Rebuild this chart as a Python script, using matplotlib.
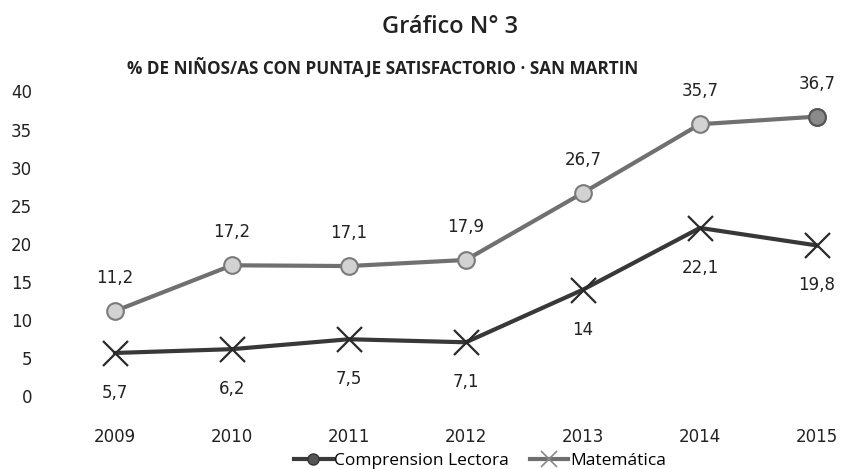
import matplotlib
matplotlib.use("Agg")
import matplotlib.pyplot as plt
from matplotlib.lines import Line2D

# datos del gráfico
anios = ["2009", "2010", "2011", "2012", "2013", "2014", "2015"]
comprension = [11.2, 17.2, 17.1, 17.9, 26.7, 35.7, 36.7]
matematica = [5.7, 6.2, 7.5, 7.1, 14, 22.1, 19.8]
y_ticks = [0, 5, 10, 15, 20, 25, 30, 35, 40]


def etiqueta(v):
    s = f"{v:g}"
    return s.replace(".", ",")


fig = plt.figure(figsize=(8.45, 4.69), dpi=100)
ax = fig.add_axes([60 / 845, (469 - 410) / 469, 785 / 845, 330 / 469])

x = list(range(len(anios)))

ax.plot(x, comprension, color="#707070", lw=3, marker="o", ms=12,
        mfc="#d2d2d2", mec="#7a7a7a", mew=1.5, zorder=3)
ax.plot(x[-1], comprension[-1], marker="o", ms=12, mfc="#8a8a8a",
        mec="#555555", mew=1.5, zorder=4)
ax.plot(x, matematica, color="#383838", lw=3, marker="x", ms=18,
        mec="#2a2a2a", mew=1.6, zorder=3)

for xi, v in zip(x, comprension):
    ax.annotate(etiqueta(v), (xi, v), xytext=(0, 33), textcoords="offset pixels",
                ha="center", va="center", fontsize=12, color="#222222")
for xi, v in zip(x, matematica):
    ax.annotate(etiqueta(v), (xi, v), xytext=(0, -40), textcoords="offset pixels",
                ha="center", va="center", fontsize=12, color="#222222")

ax.set_xlim(-0.47, 6.24)
ax.set_ylim(-1.78, 41.5)
ax.set_xticks(x)
ax.set_xticklabels(anios)
ax.set_yticks(y_ticks)
ax.tick_params(axis="both", length=0, labelsize=12, colors="#222222")
ax.tick_params(axis="y", pad=20)
ax.tick_params(axis="x", pad=13)
for s in ax.spines.values():
    s.set_visible(False)

fig.text(450 / 845, 1 - 27 / 469, "Gráfico N° 3", ha="center", va="center",
         fontsize=17, fontfamily="Open Sans", fontweight="semibold", color="#222222")
fig.text(127 / 845, 1 - 68 / 469, "% DE NIÑOS/AS CON PUNTAJE SATISFACTORIO · SAN MARTIN",
         ha="left", va="center", fontsize=12.3, fontweight="bold",
         fontfamily="Open Sans", color="#222222")

handles = [
    Line2D([], [], color="#3a3a3a", lw=3, marker="o", ms=8, mfc="#555555", mec="#333333"),
    Line2D([], [], color="#6f6f6f", lw=3, marker="x", ms=11, mec="#888888", mew=1.2),
]
fig.legend(handles, ["Comprension Lectora", "Matemática"], loc="center",
           bbox_to_anchor=(480 / 845, 1 - 461 / 469), ncol=2, frameon=False,
           prop={"family": "Open Sans", "size": 12.5}, handlelength=2.2,
           handletextpad=0.1, columnspacing=1.2)

fig.savefig("out.png", dpi=100)
